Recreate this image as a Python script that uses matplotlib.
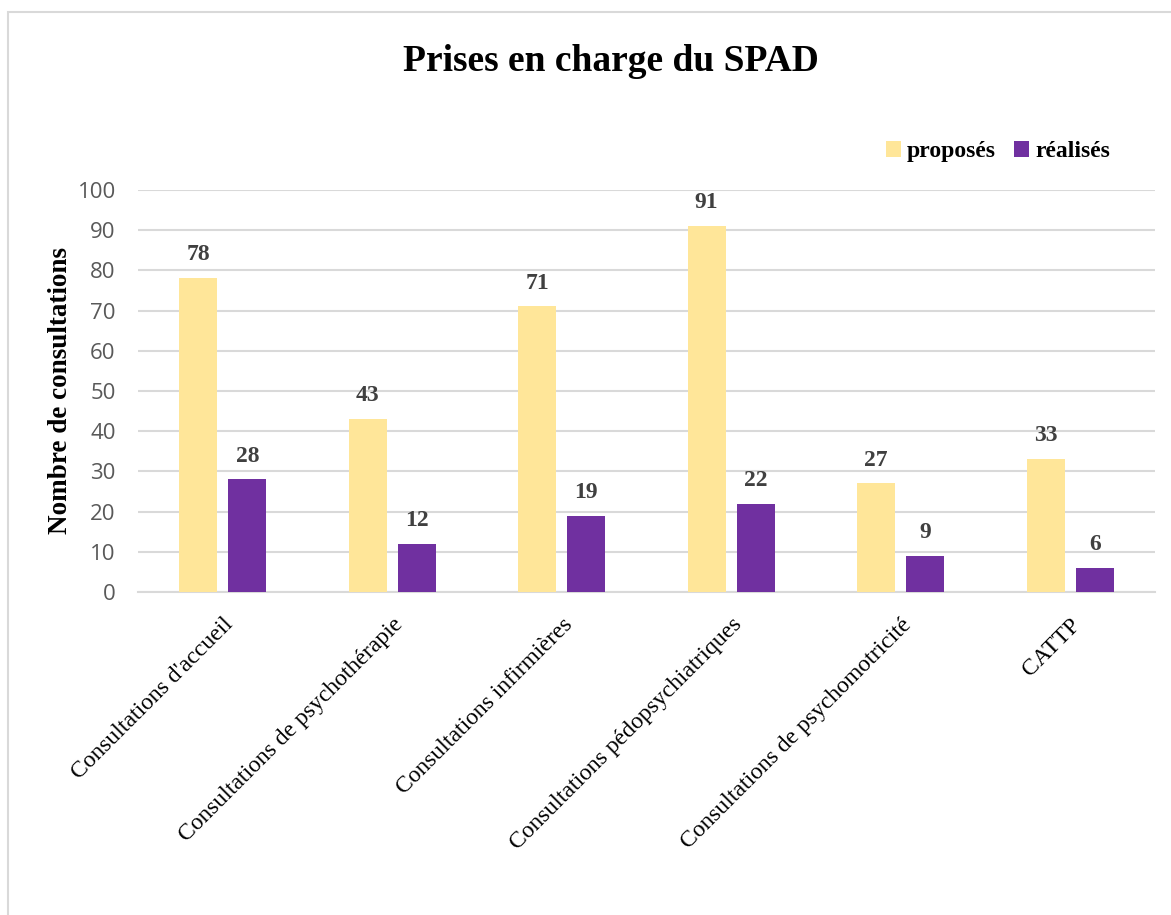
import matplotlib.pyplot as plt
import numpy as np
from matplotlib.patches import Rectangle

# Données
categories = ["Consultations d'accueil", "Consultations de psychothérapie",
              "Consultations infirmières", "Consultations pédopsychiatriques",
              "Consultations de psychomotricité", "CATTP"]
proposes = [78, 43, 71, 91, 27, 33]
realises = [28, 12, 19, 22, 9, 6]

jaune = "#FFE699"
violet = "#7030A0"
serif = ["Liberation Serif", "DejaVu Serif"]

fig = plt.figure(figsize=(11.71, 9.15), dpi=100)
ax = fig.add_axes([0.1178, 0.353, 0.8685, 0.4395])

x = np.arange(len(categories))
w = 0.225
off = 0.145
b1 = ax.bar(x - off, proposes, w, color=jaune, label="proposés", zorder=3)
b2 = ax.bar(x + off, realises, w, color=violet, label="réalisés", zorder=3)

for barres in (b1, b2):
    for b in barres:
        h = b.get_height()
        ax.text(b.get_x() + b.get_width() / 2, h + 3.2, str(int(h)),
                ha="center", va="bottom", fontsize=17, fontweight="bold",
                family=serif, color="#404040")

ax.set_xlim(-0.5, len(categories) - 0.5)
ax.set_ylim(0, 100)
ax.set_yticks(range(0, 101, 10))
ax.yaxis.grid(True, color="#D9D9D9", linewidth=1.5, zorder=0)
for s in ("top", "right", "left"):
    ax.spines[s].set_visible(False)
ax.spines["bottom"].set_color("#D9D9D9")
ax.spines["bottom"].set_linewidth(1.5)
ax.tick_params(axis="both", length=0)
ax.tick_params(axis="y", labelsize=16, labelcolor="#595959", pad=16)
for t in ax.get_yticklabels():
    t.set_family(["Open Sans", "DejaVu Sans"])

ax.set_xticks(x)
ax.set_xticklabels(categories, rotation=45, ha="right", rotation_mode="anchor",
                   fontsize=17, family=serif)
ax.tick_params(axis="x", pad=16)

ax.set_ylabel("Nombre de consultations", fontsize=19.5, fontweight="bold",
              family=serif, labelpad=3)

fig.text(0.522, 0.933, "Prises en charge du SPAD", ha="center", va="center",
         fontsize=27, fontweight="bold", family=serif)

fig.legend(handles=[b1, b2], loc="center right", bbox_to_anchor=(0.966, 0.834),
           ncol=2, frameon=False,
           prop={"family": serif, "weight": "bold", "size": 17},
           handlelength=0.65, handleheight=0.65, handletextpad=0.25,
           columnspacing=0.75)

# cadre gris autour du graphique
fig.patches.append(Rectangle((8 / 1171, -0.05), 1.2, 1 - 12 / 915 + 0.05,
                             transform=fig.transFigure, fill=False,
                             edgecolor="#D9D9D9", linewidth=1.5))

fig.savefig("out.png", dpi=100)
